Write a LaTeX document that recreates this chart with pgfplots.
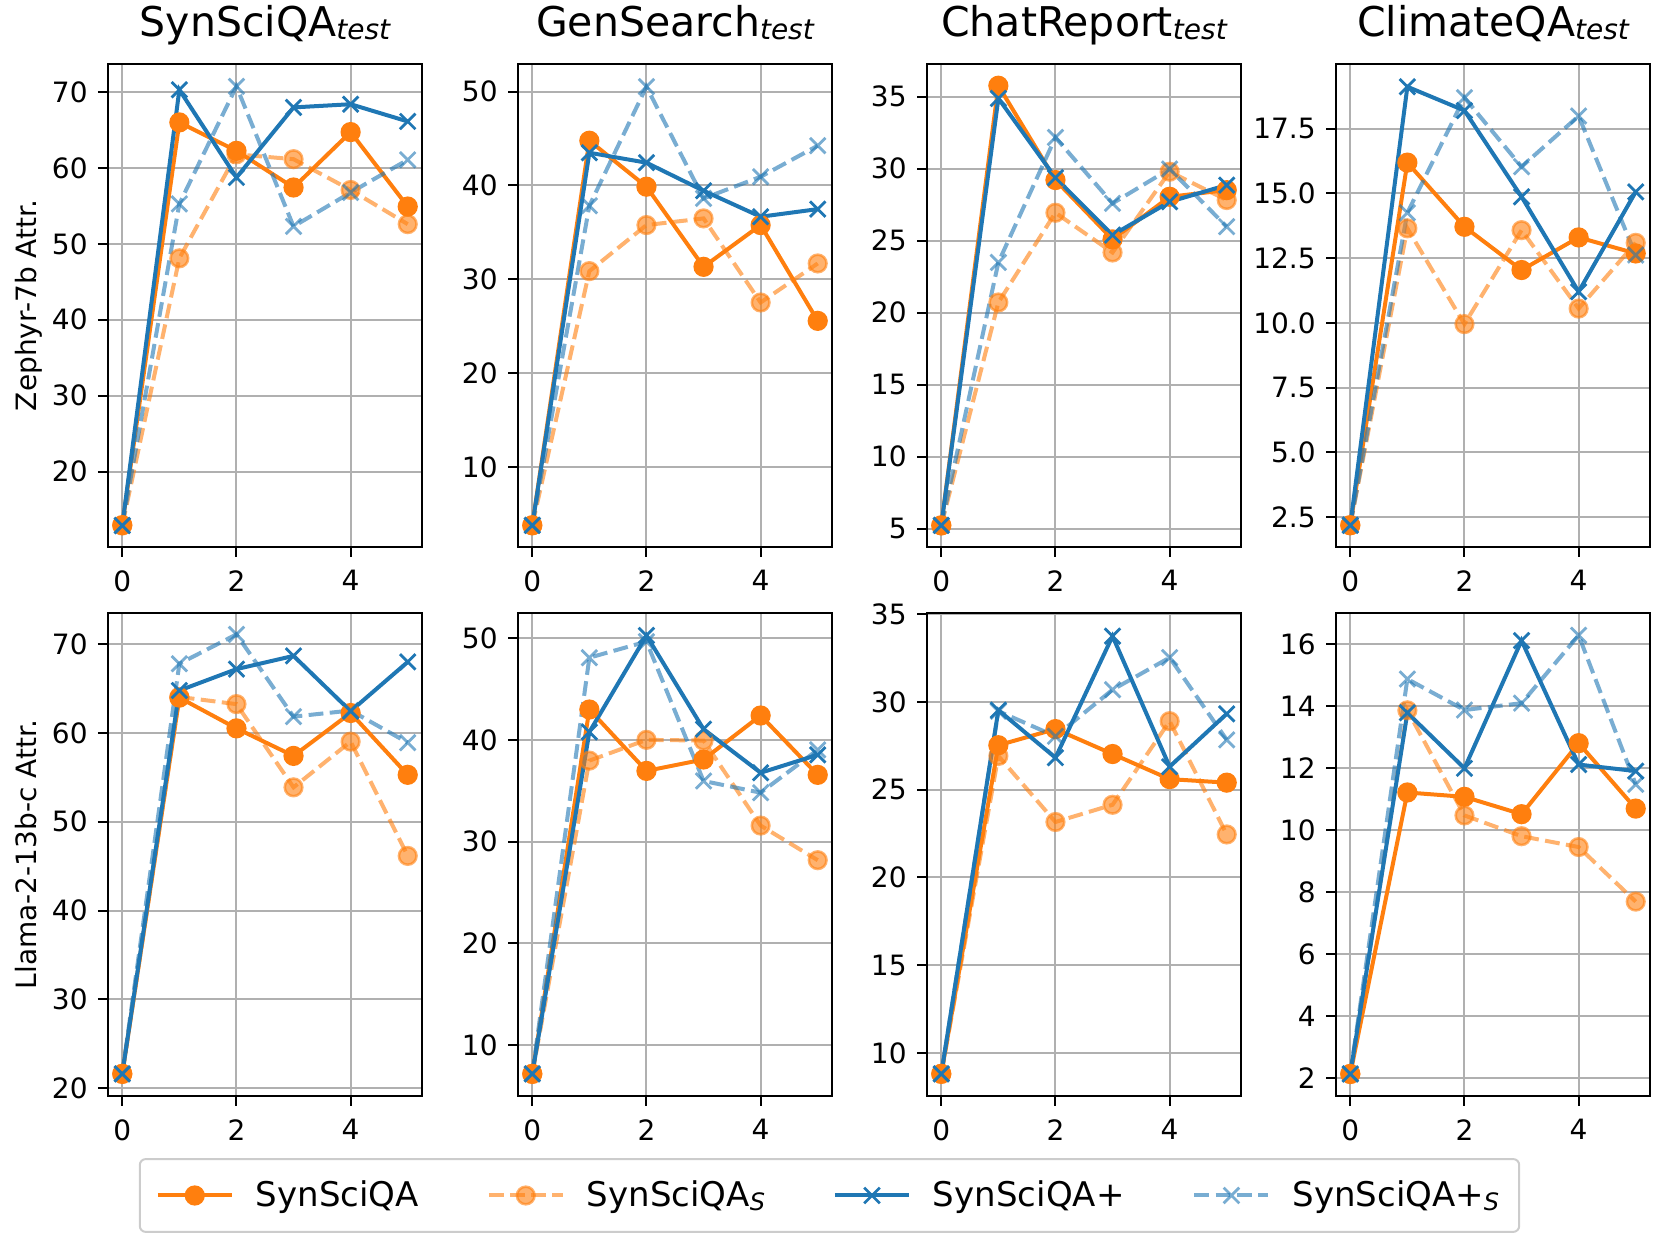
\documentclass[border=0pt]{standalone}
\usepackage{fontspec}
\setmainfont{DejaVu Sans}
\usepackage{pgfplots}
\usepackage{pgfplotstable}
\pgfplotsset{compat=1.18}

\definecolor{tOrange}{HTML}{FF7F0E}
\definecolor{tBlue}{HTML}{1F77B4}
\definecolor{gridgray}{HTML}{B0B0B0}
\definecolor{legframe}{HTML}{CCCCCC}

\newcommand{\tsub}[1]{\raisebox{-1.8pt}{\fontsize{14}{14}\selectfont\itshape #1}}
\newcommand{\lsub}[1]{\raisebox{-2pt}{\fontsize{12}{12}\selectfont\itshape #1}}

% columns: a = SynSciQA, b = SynSciQA_S, c = SynSciQA+, d = SynSciQA+_S
\pgfplotstableread{
x a b c d
0 12.95 12.90 12.90 12.90
1 66.00 48.10 70.30 55.27
2 62.26 61.80 58.75 70.75
3 57.43 61.16 67.98 52.30
4 64.73 57.10 68.40 56.77
5 54.92 52.60 66.13 61.08
}\zephyrSyn
\pgfplotstableread{
x a b c d
0 3.78 3.78 3.78 3.78
1 44.77 30.87 43.49 37.84
2 39.87 35.78 42.43 50.53
3 31.33 36.49 39.44 38.62
4 35.78 27.53 36.67 40.93
5 25.57 31.69 37.48 44.24
}\zephyrGen
\pgfplotstableread{
x a b c d
0 5.23 5.23 5.23 5.23
1 35.76 20.71 34.88 23.49
2 29.21 26.94 29.37 32.17
3 25.09 24.18 25.39 27.59
4 28.05 29.79 27.70 29.98
5 28.51 27.82 28.86 25.97
}\zephyrChat
\pgfplotstableread{
x a b c d
0 2.18 2.18 2.18 2.18
1 16.19 13.65 19.12 14.25
2 13.71 9.95 18.20 18.70
3 12.04 13.58 14.87 16.03
4 13.30 10.55 11.20 17.99
5 12.68 13.09 15.06 12.62
}\zephyrClim
\pgfplotstableread{
x a b c d
0 21.61 21.61 21.61 21.61
1 63.97 64.05 64.77 67.79
2 60.51 63.24 67.18 71.09
3 57.41 53.87 68.67 61.83
4 62.24 59.02 62.44 62.52
5 55.28 46.15 67.99 58.90
}\llamaSyn
\pgfplotstableread{
x a b c d
0 7.19 7.19 7.19 7.19
1 42.98 37.96 40.77 48.07
2 36.95 40.00 50.25 49.65
3 38.07 39.93 41.05 35.96
4 42.39 31.58 36.77 34.81
5 36.56 28.18 38.53 39.02
}\llamaGen
\pgfplotstableread{
x a b c d
0 8.82 8.82 8.82 8.82
1 27.53 26.92 29.53 29.47
2 28.45 23.16 26.82 28.04
3 27.03 24.14 33.74 30.69
4 25.60 28.90 26.31 32.52
5 25.40 22.45 29.32 27.84
}\llamaChat
\pgfplotstableread{
x a b c d
0 2.14 2.14 2.14 2.14
1 11.22 13.87 13.79 14.88
2 11.08 10.48 12.00 13.88
3 10.52 9.81 16.12 14.10
4 12.81 9.46 12.12 16.29
5 10.70 7.70 11.91 11.48
}\llamaClim

\pgfplotsset{
  panel/.style={
    scale only axis, width=157pt, height=241.5pt, anchor=south west,
    xmin=-0.25, xmax=5.25, xtick={0,2,4},
    grid=major, grid style={line width=1pt, color=gridgray},
    axis line style={line width=1.1pt},
    tick align=outside, tick pos=left, major tick length=5pt,
    every tick/.style={black, line width=1pt},
    tick label style={font=\fontsize{14}{16}\selectfont},
    /pgf/number format/assume math mode=true,
    yticklabel style={inner sep=0pt, anchor=east, xshift=-5pt},
    xticklabel style={inner sep=0pt, anchor=north, yshift=-6.5pt},
    title style={font=\fontsize{20.5}{24}\selectfont, at={(axis description cs:0.5,1)}, anchor=base, yshift=7.85pt},
    every axis y label/.style={at={(axis description cs:-0.2277,0.5)}, rotate=90, anchor=base, font=\fontsize{14}{16}\selectfont},
    legend image code/.code={\draw[mark repeat=2,mark phase=2] plot coordinates {(0pt,0pt) (18.5pt,0pt) (37pt,0pt)};},
  },
  s1/.style={color=tOrange, line width=2pt, mark=*, mark size=4.4pt, mark options={line width=1.3pt}},
  s2/.style={color=tOrange, opacity=0.6, line width=2pt, dash pattern=on 7.4pt off 3.2pt, mark=*, mark size=4.4pt, mark options={solid, line width=1.3pt}},
  s3/.style={color=tBlue, line width=2pt, mark=x, mark size=5.5pt, mark options={line width=1.4pt}},
  s4/.style={color=tBlue, opacity=0.6, line width=2pt, dash pattern=on 7.4pt off 3.2pt, mark=x, mark size=5.5pt, mark options={solid, line width=1.4pt}},
}

\newcommand{\fourplots}[1]{%
  \addplot[s1] table[x=x, y=a] {#1};
  \addplot[s2] table[x=x, y=b] {#1};
  \addplot[s3] table[x=x, y=c] {#1};
  \addplot[s4] table[x=x, y=d] {#1};
}

\begin{document}
\begin{tikzpicture}
\useasboundingbox (0pt,0pt) rectangle (830.5pt,623pt);

% top row: Zephyr-7b
\begin{axis}[panel, at={(54pt,349.5pt)},
  ymin=10.07, ymax=73.7, ytick={20,30,...,70},
  title={SynSciQA\tsub{test}}, ylabel={Zephyr-7b Attr.}]
\fourplots{\zephyrSyn}
\end{axis}
\begin{axis}[panel, at={(259pt,349.5pt)},
  ymin=1.47, ymax=52.95, ytick={10,20,...,50},
  title={GenSearch\tsub{test}}]
\fourplots{\zephyrGen}
\end{axis}
\begin{axis}[panel, at={(463.5pt,349.5pt)},
  ymin=3.73, ymax=37.27, ytick={5,10,...,35},
  title={ChatReport\tsub{test}}]
\fourplots{\zephyrChat}
\end{axis}
\begin{axis}[panel, at={(668pt,349.5pt)},
  ymin=1.34, ymax=20.0, ytick={2.5,5,7.5,10,12.5,15,17.5},
  yticklabel style={/pgf/number format/.cd, fixed, fixed zerofill, precision=1},
  title={ClimateQA\tsub{test}}]
\fourplots{\zephyrClim}
\end{axis}

% bottom row: Llama-2-13b-c
\begin{axis}[panel, at={(54pt,75pt)},
  ymin=19.12, ymax=73.5, ytick={20,30,...,70},
  ylabel={Llama-2-13b-c Attr.},
  legend columns=4,
  legend style={at={(2.2978,-0.206)}, anchor=center, draw=legframe, line width=1pt,
    rounded corners=3pt, font=\fontsize{17}{20}\selectfont,
    inner xsep=8pt, inner ysep=9pt,
    /tikz/every odd column/.append style={column sep=9pt},
    /tikz/every even column/.append style={column sep=32pt}}]
\fourplots{\llamaSyn}
\legend{SynSciQA, SynSciQA\lsub{S}, SynSciQA+, SynSciQA+\lsub{S}}
\end{axis}
\begin{axis}[panel, at={(259pt,75pt)},
  ymin=5.02, ymax=52.46, ytick={10,20,...,50}]
\fourplots{\llamaGen}
\end{axis}
\begin{axis}[panel, at={(463.5pt,75pt)},
  ymin=7.56, ymax=35.06, ytick={10,15,...,35}]
\fourplots{\llamaChat}
\end{axis}
\begin{axis}[panel, at={(668pt,75pt)},
  ymin=1.43, ymax=17.01, ytick={2,4,...,16}]
\fourplots{\llamaClim}
\end{axis}
\end{tikzpicture}
\end{document}
